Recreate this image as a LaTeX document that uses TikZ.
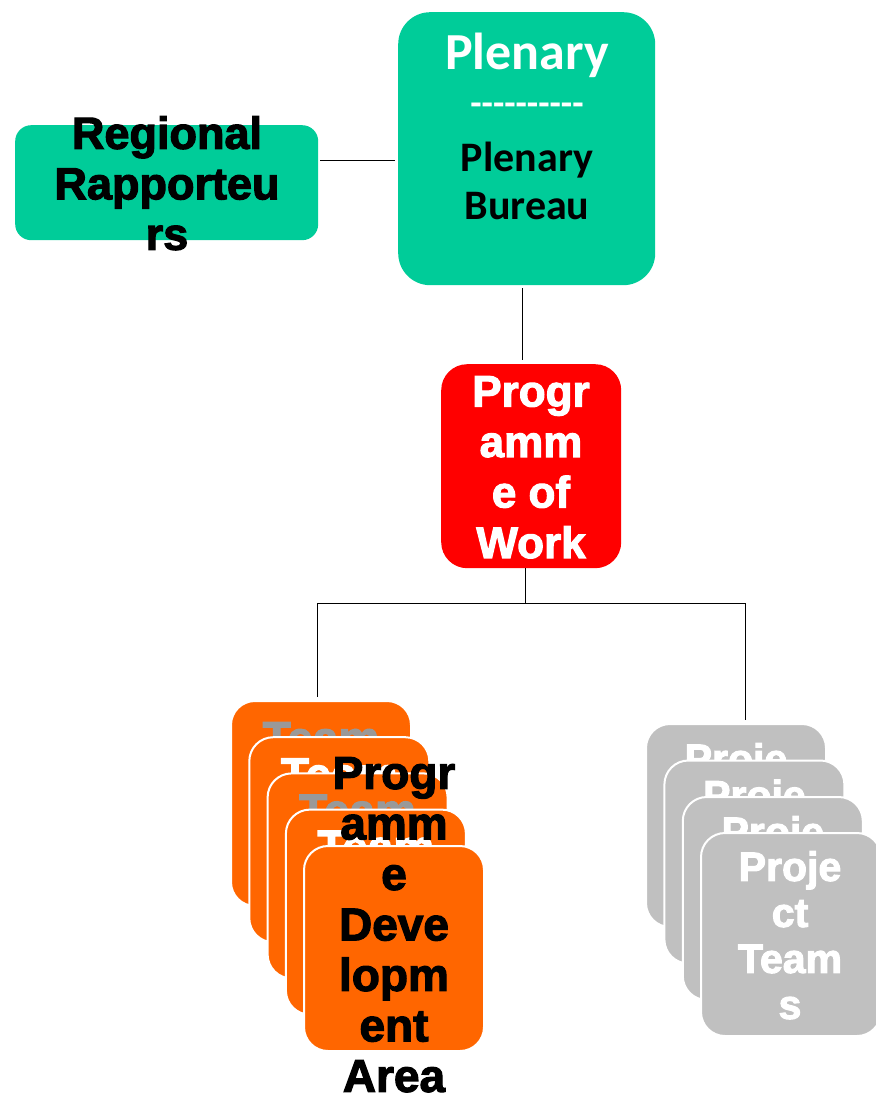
\documentclass[tikz,border=0pt]{standalone}
\usepackage{fontspec}
\setmainfont{Liberation Sans}
\newfontfamily\heavy{Liberation Sans Bold}[FakeBold=2.5]
\newfontfamily\calib{Carlito}
\definecolor{plengreen}{RGB}{0,204,153}
\definecolor{devorange}{RGB}{255,102,0}
\definecolor{projgray}{RGB}{192,192,192}
\definecolor{textgray}{RGB}{153,153,153}

\begin{document}
\begin{tikzpicture}[x=1pt,y=-1pt,
  box/.style={rounded corners=#1,inner sep=0pt,anchor=north west},
  card/.style={box=24,draw=white,line width=2pt,minimum width=180,minimum height=205},
  link/.style={draw=black,line width=0.8pt},
  heavytext/.style={font=\heavy\fontsize{#1}{50.5}\selectfont,align=center,inner sep=0pt,anchor=north}]
  \useasboundingbox (0,0) rectangle (875,1097);

  % top boxes
  \node[box=32,fill=plengreen,minimum width=257,minimum height=273] (plen) at (398,12) {};
  \node[box=16,fill=plengreen,minimum width=303,minimum height=115] (reg) at (15,125) {};
  \node[box=26,fill=red,minimum width=180,minimum height=204] (pow) at (441,364) {};

  \node[font=\calib\bfseries\fontsize{52}{60}\selectfont,text=white,inner sep=0pt,anchor=north] (plentitle) at (527,33) {Plenary};
  \node[font=\calib\bfseries\fontsize{37}{40}\selectfont,text=white,inner sep=0pt,anchor=north] (plendash) at (527,103) {----------};
  \node[font=\calib\bfseries\fontsize{42}{48}\selectfont,align=center,inner sep=0pt,anchor=north] (plenbur) at (527,142) {Plenary\\Bureau};
  \node[heavytext=45] (regtxt) at (167,116) {Regional\\Rapporteu\\rs};
  \node[heavytext=44,text=white] (powtxt) at (531,376) {Progr\\amm\\e of\\Work};

  % connectors
  \draw[link] ([xshift=2pt,yshift=22pt]reg.east) -- ([xshift=-3pt,yshift=22pt]reg.east -| plen.west);
  \coordinate (c1) at ([xshift=-4pt]plen.south);
  \draw[link] ([yshift=-3pt]c1) -- ([yshift=4pt]c1 |- pow.north);
  \coordinate (fork) at ([xshift=-6pt,yshift=-35pt]pow.south);

  % programme development stack
  \foreach \i/\c in {0/textgray,1/white,2/textgray,3/white} {
    \node[card,fill=devorange] (dev\i) at (230+18.3*\i,700+36.2*\i) {};
    \node[heavytext=46,text=\c] at ([yshift=-22pt]dev\i.north) {Team};
  }
  \node[card,fill=devorange] (dev4) at (303,845) {};

  % project teams stack
  \foreach \i in {0,1,2} {
    \node[card,fill=projgray,minimum height=203] (proj\i) at (645+18.4*\i,723+36.5*\i) {};
    \node[heavytext=41,text=white] at ([yshift=-20pt]proj\i.north) {Proje};
  }
  \node[card,fill=projgray,minimum height=203] (proj3) at (700,832) {};
  \node[font=\heavy\fontsize{41}{46}\selectfont,align=center,inner sep=0pt,anchor=north,text=white] (projtxt) at (790,851) {Proje\\ct\\Team\\s};

  \node[heavytext=46] (devtxt) at (394,757) {Progr\\amm\\e\\Deve\\lopm\\ent\\Area};

  \draw[link] ([xshift=-6pt]pow.south) -- (fork) -| ([xshift=-4pt,yshift=3pt]dev0.north);
  \draw[link] (fork) -| ([xshift=9pt,yshift=3pt]proj0.north);
\end{tikzpicture}
\end{document}
